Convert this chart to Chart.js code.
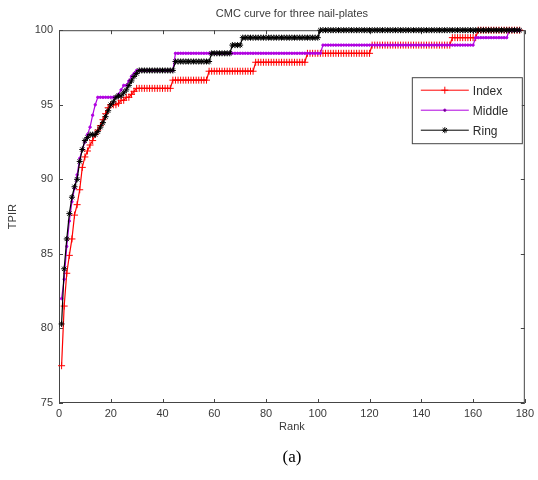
<!DOCTYPE html>
<html>
<head>
<meta charset="utf-8">
<script src="https://cdn.jsdelivr.net/npm/chart.js@4.4.0/dist/chart.umd.min.js"></script>
<style>
  html, body { margin: 0; padding: 0; background: #fff; }
  #wrap { width: 538px; height: 480px; }
</style>
</head>
<body>
<div id="wrap"><canvas id="cmcChart" width="538" height="480"></canvas></div>
<script>
// CMC curve for three nail-plates

const chartTitle = 'CMC curve for three nail-plates';
const seriesNames = ['Index', 'Middle', 'Ring'];
const xTicks = [0, 20, 40, 60, 80, 100, 120, 140, 160, 180];
const yTicks = [75, 80, 85, 90, 95, 100];

// rank 1..178
const ranks = Array.from({ length: 178 }, (_, i) => i + 1);

const indexTPIR = [
  77.5, 81.5, 83.7, 84.9, 86.0, 87.6, 88.3, 89.3, 90.8, 91.5,
  91.9, 92.3, 92.6, 93.0, 93.3, 93.6, 94.0, 94.4, 94.8, 95.0,
  95.0, 95.0, 95.1, 95.3, 95.3, 95.5, 95.5, 95.7, 95.9, 96.1,
  96.1, 96.1, 96.1, 96.1, 96.1, 96.1, 96.1, 96.1, 96.1, 96.1,
  96.1, 96.1, 96.1, 96.65, 96.65, 96.65, 96.65, 96.65, 96.65, 96.65,
  96.65, 96.65, 96.65, 96.65, 96.65, 96.65, 96.65, 97.25, 97.25, 97.25,
  97.25, 97.25, 97.25, 97.25, 97.25, 97.25, 97.25, 97.25, 97.25, 97.25,
  97.25, 97.25, 97.25, 97.25, 97.25, 97.85, 97.85, 97.85, 97.85, 97.85,
  97.85, 97.85, 97.85, 97.85, 97.85, 97.85, 97.85, 97.85, 97.85, 97.85,
  97.85, 97.85, 97.85, 97.85, 97.85, 98.45, 98.45, 98.45, 98.45, 98.45,
  98.45, 98.45, 98.45, 98.45, 98.45, 98.45, 98.45, 98.45, 98.45, 98.45,
  98.45, 98.45, 98.45, 98.45, 98.45, 98.45, 98.45, 98.45, 98.45, 98.45,
  99.0, 99.0, 99.0, 99.0, 99.0, 99.0, 99.0, 99.0, 99.0, 99.0,
  99.0, 99.0, 99.0, 99.0, 99.0, 99.0, 99.0, 99.0, 99.0, 99.0,
  99.0, 99.0, 99.0, 99.0, 99.0, 99.0, 99.0, 99.0, 99.0, 99.0,
  99.0, 99.5, 99.5, 99.5, 99.5, 99.5, 99.5, 99.5, 99.5, 99.5,
  99.5, 100, 100, 100, 100, 100, 100, 100, 100, 100,
  100, 100, 100, 100, 100, 100, 100, 100
];

const middleTPIR = [
  82.0, 83.3, 85.5, 87.2, 88.5, 89.4, 90.3, 91.4, 92.0, 92.5,
  93.0, 93.5, 94.3, 95.0, 95.5, 95.5, 95.5, 95.5, 95.5, 95.5,
  95.5, 95.5, 95.7, 96.0, 96.3, 96.3, 96.6, 96.9, 97.1, 97.3,
  97.3, 97.3, 97.3, 97.3, 97.3, 97.3, 97.3, 97.3, 97.3, 97.3,
  97.3, 97.3, 97.3, 97.3, 98.45, 98.45, 98.45, 98.45, 98.45, 98.45,
  98.45, 98.45, 98.45, 98.45, 98.45, 98.45, 98.45, 98.45, 98.45, 98.45,
  98.45, 98.45, 98.45, 98.45, 98.45, 98.45, 98.45, 98.45, 98.45, 98.45,
  98.45, 98.45, 98.45, 98.45, 98.45, 98.45, 98.45, 98.45, 98.45, 98.45,
  98.45, 98.45, 98.45, 98.45, 98.45, 98.45, 98.45, 98.45, 98.45, 98.45,
  98.45, 98.45, 98.45, 98.45, 98.45, 98.45, 98.45, 98.45, 98.45, 98.45,
  98.45, 99.0, 99.0, 99.0, 99.0, 99.0, 99.0, 99.0, 99.0, 99.0,
  99.0, 99.0, 99.0, 99.0, 99.0, 99.0, 99.0, 99.0, 99.0, 99.0,
  99.0, 99.0, 99.0, 99.0, 99.0, 99.0, 99.0, 99.0, 99.0, 99.0,
  99.0, 99.0, 99.0, 99.0, 99.0, 99.0, 99.0, 99.0, 99.0, 99.0,
  99.0, 99.0, 99.0, 99.0, 99.0, 99.0, 99.0, 99.0, 99.0, 99.0,
  99.0, 99.0, 99.0, 99.0, 99.0, 99.0, 99.0, 99.0, 99.0, 99.0,
  99.5, 99.5, 99.5, 99.5, 99.5, 99.5, 99.5, 99.5, 99.5, 99.5,
  99.5, 99.5, 99.5, 100, 100, 100, 100, 100
];

const ringTPIR = [
  80.3, 84.0, 86.0, 87.7, 88.8, 89.5, 90.0, 91.2, 92.0, 92.6,
  92.8, 93.0, 93.0, 93.0, 93.2, 93.5, 93.8, 94.2, 94.6, 95.0,
  95.2, 95.5, 95.6, 95.6, 95.8, 96.0, 96.3, 96.6, 96.9, 97.1,
  97.3, 97.3, 97.3, 97.3, 97.3, 97.3, 97.3, 97.3, 97.3, 97.3,
  97.3, 97.3, 97.3, 97.3, 97.9, 97.9, 97.9, 97.9, 97.9, 97.9,
  97.9, 97.9, 97.9, 97.9, 97.9, 97.9, 97.9, 97.9, 98.45, 98.45,
  98.45, 98.45, 98.45, 98.45, 98.45, 98.45, 99.0, 99.0, 99.0, 99.0,
  99.5, 99.5, 99.5, 99.5, 99.5, 99.5, 99.5, 99.5, 99.5, 99.5,
  99.5, 99.5, 99.5, 99.5, 99.5, 99.5, 99.5, 99.5, 99.5, 99.5,
  99.5, 99.5, 99.5, 99.5, 99.5, 99.5, 99.5, 99.5, 99.5, 99.5,
  100, 100, 100, 100, 100, 100, 100, 100, 100, 100,
  100, 100, 100, 100, 100, 100, 100, 100, 100, 100,
  100, 100, 100, 100, 100, 100, 100, 100, 100, 100,
  100, 100, 100, 100, 100, 100, 100, 100, 100, 100,
  100, 100, 100, 100, 100, 100, 100, 100, 100, 100,
  100, 100, 100, 100, 100, 100, 100, 100, 100, 100,
  100, 100, 100, 100, 100, 100, 100, 100, 100, 100,
  100, 100, 100, 100, 100, 100, 100, 100
];

const FONT = "'Liberation Sans', Arial, sans-serif";
const TEXT = '#3a3a3a';
const AXIS = '#454545';

Chart.defaults.font.family = FONT;
Chart.defaults.font.size = 11;
Chart.defaults.color = TEXT;

const toXY = vals => vals.map((v, i) => ({ x: ranks[i], y: v }));

// box, inward ticks, legend and caption like the matlab figure
const matlabFrame = {
    id: 'matlabFrame',
    beforeDatasetsDraw(chart) {
        const { ctx, chartArea: a, scales: { x, y } } = chart;
        ctx.save();
        ctx.strokeStyle = AXIS;
        ctx.lineWidth = 1;
        ctx.strokeRect(a.left + 0.5, a.top + 0.5, a.right - a.left - 1, a.bottom - a.top - 1);
        ctx.beginPath();
        x.ticks.forEach(t => {
            const px = Math.round(x.getPixelForValue(t.value)) + 0.5;
            ctx.moveTo(px, a.bottom); ctx.lineTo(px, a.bottom - 4);
            ctx.moveTo(px, a.top); ctx.lineTo(px, a.top + 4);
        });
        y.ticks.forEach(t => {
            const py = Math.round(y.getPixelForValue(t.value)) + 0.5;
            ctx.moveTo(a.left, py); ctx.lineTo(a.left + 4, py);
            ctx.moveTo(a.right, py); ctx.lineTo(a.right - 4, py);
        });
        ctx.stroke();
        ctx.restore();
    },
    afterDraw(chart) {
        const { ctx, chartArea: a } = chart;
        ctx.save();

        // legend box, top right inside the axes
        const box = { left: a.right - 113, top: a.top + 47, w: 110, h: 66 };
        ctx.fillStyle = '#fff';
        ctx.fillRect(box.left, box.top, box.w, box.h);
        ctx.strokeStyle = AXIS;
        ctx.lineWidth = 1;
        ctx.strokeRect(box.left + 0.5, box.top + 0.5, box.w, box.h);

        chart.data.datasets.forEach((ds, i) => {
            const cy = box.top + 13 + i * 20;
            ctx.strokeStyle = ds.borderColor;
            ctx.lineWidth = 1;
            ctx.beginPath();
            ctx.moveTo(box.left + 9, cy);
            ctx.lineTo(box.left + 57, cy);
            ctx.stroke();
            Chart.helpers.drawPoint(ctx, {
                pointStyle: ds.pointStyle,
                radius: ds.pointRadius,
                rotation: 0,
                borderWidth: 1
            }, box.left + 33, cy);
            ctx.fillStyle = '#2a2a2a';
            ctx.font = `12px ${FONT}`;
            ctx.textBaseline = 'middle';
            ctx.textAlign = 'left';
            ctx.fillText(ds.label, box.left + 61, cy + 1);
        });

        // sub-figure caption
        ctx.fillStyle = '#000';
        ctx.font = "17px 'Liberation Serif', 'Times New Roman', serif";
        ctx.textAlign = 'center';
        ctx.textBaseline = 'middle';
        ctx.fillText('(a)', (a.left + a.right) / 2, 458);
        ctx.restore();
    }
};

new Chart(document.getElementById('cmcChart'), {
    type: 'line',
    data: {
        datasets: [
            {
                label: seriesNames[0],
                data: toXY(indexTPIR),
                borderColor: '#ff0000',
                backgroundColor: '#ff0000',
                pointStyle: 'cross',
                pointRadius: 3.5,
                pointBorderWidth: 1,
                order: 2
            },
            {
                label: seriesNames[1],
                data: toXY(middleTPIR),
                borderColor: '#b000e0',
                backgroundColor: '#b000e0',
                pointStyle: 'circle',
                pointRadius: 1.2,
                pointBorderWidth: 1,
                order: 1
            },
            {
                label: seriesNames[2],
                data: toXY(ringTPIR),
                borderColor: '#000000',
                backgroundColor: '#000000',
                pointStyle: 'star',
                pointRadius: 3,
                pointBorderWidth: 1,
                order: 0
            }
        ]
    },
    options: {
        responsive: false,
        animation: false,
        devicePixelRatio: 1,
        layout: { padding: { left: 0, right: 12, top: 0, bottom: 45 } },
        elements: { line: { borderWidth: 1.2, tension: 0, fill: false } },
        datasets: { line: { clip: false } },
        plugins: {
            legend: { display: false },
            tooltip: { enabled: false },
            title: {
                display: true,
                text: chartTitle,
                fullSize: false,
                color: TEXT,
                font: { size: 11, weight: 'normal' },
                padding: { top: 7, bottom: 10 }
            }
        },
        scales: {
            x: {
                type: 'linear',
                min: 0,
                max: 180,
                afterBuildTicks: s => { s.ticks = xTicks.map(v => ({ value: v })); },
                afterFit: s => { s.height = 32; },
                grid: { display: false, drawTicks: false },
                border: { display: false },
                ticks: { padding: 4, maxRotation: 0 },
                title: { display: true, text: 'Rank', padding: { top: 0, bottom: 1 }, font: { size: 11 } }
            },
            y: {
                type: 'linear',
                min: 75,
                max: 100,
                afterBuildTicks: s => { s.ticks = yTicks.map(v => ({ value: v })); },
                afterFit: s => { s.width = 59; },
                grid: { display: false, drawTicks: false },
                border: { display: false },
                ticks: { padding: 6 },
                title: { display: true, text: 'TPIR', padding: { top: 6, bottom: 0 }, font: { size: 11 } }
            }
        }
    },
    plugins: [matlabFrame]
});
</script>
</body>
</html>
